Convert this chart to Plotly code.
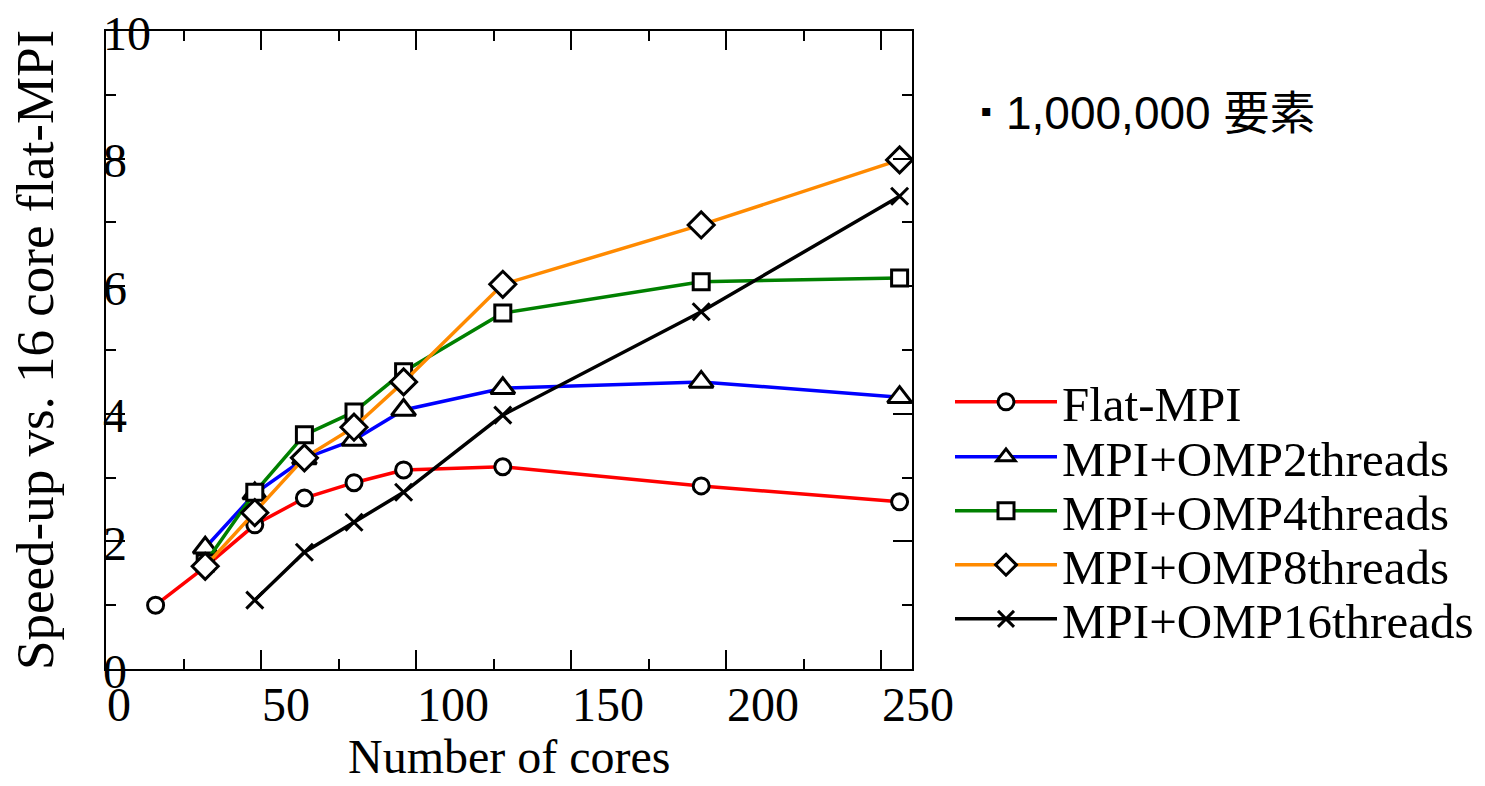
import plotly.graph_objects as go

# Core counts and speed-up relative to 16-core flat-MPI
cores_flat = [16, 32, 48, 64, 80, 96, 128, 192, 256]
speedup_flat = [1.00, 1.60, 2.26, 2.68, 2.92, 3.12, 3.17, 2.87, 2.62]

cores_omp2 = [32, 48, 64, 80, 96, 128, 192, 256]
speedup_omp2 = [1.90, 2.75, 3.30, 3.59, 4.06, 4.40, 4.50, 4.26]

cores_omp4 = [32, 48, 64, 80, 96, 128, 192, 256]
speedup_omp4 = [1.66, 2.77, 3.67, 4.03, 4.66, 5.58, 6.07, 6.13]

cores_omp8 = [32, 48, 64, 80, 96, 128, 192, 256]
speedup_omp8 = [1.61, 2.45, 3.31, 3.79, 4.50, 6.03, 6.96, 7.98]

cores_omp16 = [48, 64, 80, 96, 128, 192, 256]
speedup_omp16 = [1.08, 1.83, 2.30, 2.77, 3.98, 5.60, 7.41]

series_names = ["Flat-MPI", "MPI+OMP2threads", "MPI+OMP4threads",
                "MPI+OMP8threads", "MPI+OMP16threads"]

x_ticks = [0, 50, 100, 150, 200, 250]
y_ticks = [0, 2, 4, 6, 8, 10]

SERIF = "Liberation Serif, Times New Roman, serif"

styles = [
    dict(color="#ff0000", symbol="circle", size=16),
    dict(color="#0000ff", symbol="triangle-up", size=21),
    dict(color="#008000", symbol="square", size=16),
    dict(color="#ff8a00", symbol="diamond", size=20),
    dict(color="#000000", symbol="x-thin", size=17),
]

data = [
    (cores_flat, speedup_flat),
    (cores_omp2, speedup_omp2),
    (cores_omp4, speedup_omp4),
    (cores_omp8, speedup_omp8),
    (cores_omp16, speedup_omp16),
]

legend_ids = ["legend", "legend2", "legend3", "legend4", "legend5"]

fig = go.Figure()
for name, (xs, ys), st, lg in zip(series_names, data, styles, legend_ids):
    fig.add_trace(go.Scatter(
        x=xs, y=ys, name=name, mode="lines+markers", legend=lg,
        line=dict(color=st["color"], width=3.5),
        marker=dict(symbol=st["symbol"], size=st["size"],
                    color="white" if st["symbol"] != "x-thin" else "black",
                    line=dict(color="black", width=3)),
    ))

axis_common = dict(
    showline=True, linecolor="black", linewidth=2, mirror="allticks",
    ticks="inside", ticklen=19, tickwidth=2, tickcolor="black",
    showgrid=False, zeroline=False, showticklabels=False,
)

fig.update_xaxes(range=[0, 260], tickvals=x_ticks,
                 minor=dict(dtick=25, tick0=0, ticks="inside", ticklen=10,
                            tickwidth=2, tickcolor="black", showgrid=False),
                 **axis_common)
fig.update_yaxes(range=[0, 10], tickvals=y_ticks,
                 minor=dict(dtick=1, tick0=0, ticks="inside", ticklen=10,
                            tickwidth=2, tickcolor="black", showgrid=False),
                 **axis_common)

PLOT_L, PLOT_R, PLOT_T, PLOT_B = 106, 912, 31, 669
PW, PH = PLOT_R - PLOT_L, PLOT_B - PLOT_T

annotations = []
# x tick labels, left edge at each tick
for v in x_ticks:
    annotations.append(dict(
        x=v, y=0, xref="x", yref="paper", text=str(v), showarrow=False,
        xanchor="left", yanchor="top", xshift=-1, yshift=-7,
        font=dict(family=SERIF, size=48, color="black"),
    ))
# y tick labels, overlapping the left axis
for v in y_ticks:
    annotations.append(dict(
        x=0, y=v, xref="paper", yref="y", text=str(v), showarrow=False,
        xanchor="left", yanchor="middle", xshift=-5, yshift=-2,
        font=dict(family=SERIF, size=48, color="black"),
    ))
# axis titles
annotations.append(dict(
    x=0.5, y=-(786 - PLOT_B) / PH, xref="paper", yref="paper",
    text="Number of cores",
    showarrow=False, xanchor="center", yanchor="bottom", yshift=1,
    font=dict(family=SERIF, size=48, color="black"),
))
annotations.append(dict(
    x=0, y=0.5, xref="paper", yref="paper", text="Speed-up vs. 16 core flat-MPI",
    showarrow=False, xanchor="center", yanchor="middle", xshift=-71,
    textangle=-90,
    font=dict(family=SERIF, size=53, color="black"),
))
# problem size note with its bullet
annotations.append(dict(
    x=(986 - PLOT_L) / PW, y=(PLOT_B - 110) / PH, xref="paper", yref="paper",
    text="▪", showarrow=False, xanchor="center", yanchor="middle",
    font=dict(family="DejaVu Sans, sans-serif", size=16, color="black"),
))
annotations.append(dict(
    x=(1004 - PLOT_L) / PW, y=(PLOT_B - 113) / PH, xref="paper", yref="paper",
    text="1,000,000 要素",
    showarrow=False, xanchor="left", yanchor="middle",
    font=dict(family="Liberation Sans, Noto Sans CJK JP, sans-serif", size=46,
              color="black"),
))

# one legend box per series, stacked at fixed pixel rows
legend_rows_px = [402, 457, 511, 565, 619]
layout_legends = {}
for lg, row in zip(legend_ids, legend_rows_px):
    layout_legends[lg] = dict(
        x=(950 - PLOT_L) / PW, y=(PLOT_B - row) / PH,
        xanchor="left", yanchor="middle",
        font=dict(family=SERIF, size=49, color="black"),
        bgcolor="rgba(0,0,0,0)", borderwidth=0, itemwidth=102,
    )

fig.update_layout(
    width=1485, height=786,
    margin=dict(l=PLOT_L, r=1485 - PLOT_R, t=PLOT_T, b=786 - PLOT_B, pad=0,
                autoexpand=False),
    paper_bgcolor="white", plot_bgcolor="white",
    showlegend=True,
    annotations=annotations,
    **layout_legends,
)

fig.write_html("out.html")
